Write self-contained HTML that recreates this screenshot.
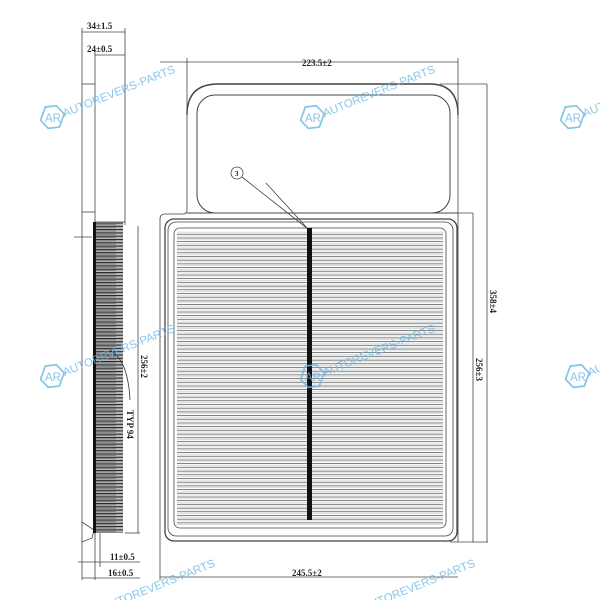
<!DOCTYPE html>
<html><head><meta charset="utf-8"><style>
html,body{margin:0;padding:0;background:#fff;width:600px;height:600px;overflow:hidden}
svg text{font-family:"Liberation Serif",serif;fill:#222;font-weight:bold}
svg text.wm{font-family:"Liberation Sans",sans-serif;fill:#6bb8e4;font-size:11.5px;font-weight:normal;opacity:.8}
</style></head><body>
<svg width="600" height="600" viewBox="0 0 600 600" xmlns="http://www.w3.org/2000/svg">
<defs>
<pattern id="pl" x="0" y="230" width="10" height="3.7" patternUnits="userSpaceOnUse">
<line x1="0" y1="0.6" x2="10" y2="0.6" stroke="#444" stroke-width="0.7"/>
<line x1="0" y1="2.3" x2="10" y2="2.3" stroke="#bbb" stroke-width="0.5"/>
</pattern>
<pattern id="sp" x="0" y="222" width="30" height="3.3" patternUnits="userSpaceOnUse">
<rect width="30" height="3.3" fill="#bbb"/>
<line x1="0" y1="1" x2="30" y2="1" stroke="#222" stroke-width="1.1"/>
<line x1="4" y1="2.4" x2="26" y2="2.4" stroke="#555" stroke-width="0.6"/>
</pattern>
<g id="logo">
<polygon points="-10,-8 0,-13 10,-8 10,6 0,11 -10,6" fill="none" stroke="#6bb8e4" stroke-width="1.8" transform="rotate(20)" opacity=".8"/>
<text x="-7" y="4" class="wm" font-size="10">AR</text>
</g>
</defs>

<!-- Side view -->
<g stroke="#444" fill="none" stroke-width="0.8">
<line x1="82" y1="28" x2="82" y2="580"/>
<line x1="95" y1="50" x2="95" y2="222"/>
<line x1="125" y1="28" x2="125" y2="225"/>
<line x1="82" y1="32" x2="125" y2="32"/>
<line x1="95" y1="55" x2="125" y2="55"/>
<line x1="82" y1="84" x2="95" y2="84"/>
<line x1="82" y1="212" x2="95" y2="212"/>
<line x1="95" y1="222" x2="125" y2="222"/>
<line x1="138" y1="226" x2="138" y2="533"/>
<line x1="125" y1="533" x2="140" y2="533"/>
<line x1="95" y1="533" x2="95" y2="580"/>
<line x1="100" y1="533" x2="100" y2="567"/>
<line x1="78" y1="562" x2="140" y2="562"/>
<line x1="82" y1="578" x2="140" y2="578"/>
<line x1="74" y1="237" x2="92" y2="237"/>
<path d="M82 522 L94 530 L92 538 L82 542"/>
</g>
<rect x="93" y="222" width="30" height="311" fill="url(#sp)"/>
<rect x="93" y="222" width="3" height="311" fill="#111"/>
<path d="M110 350 Q128 360 130 400" stroke="#333" fill="none" stroke-width="0.8"/>
<text x="87" y="29" font-size="9">34±1.5</text>
<text x="87" y="52" font-size="9">24±0.5</text>
<text x="110" y="560" font-size="9">11±0.5</text>
<text x="108" y="576" font-size="9">16±0.5</text>
<text transform="translate(141,355) rotate(90)" font-size="9">256±2</text>
<text transform="translate(127,410) rotate(90)" font-size="9">TYP 94</text>

<!-- Main view -->
<g stroke="#444" fill="none">
<path d="M187 70 L187 210 Q187 214 183 214 L165 214 Q160 214 160 219 L160 580" stroke-width="0.8"/>
<line x1="160" y1="62" x2="458" y2="62" stroke-width="0.8"/>
<line x1="187" y1="58" x2="187" y2="70" stroke-width="0.8"/>
<line x1="458" y1="58" x2="458" y2="542" stroke-width="0.8"/>
<line x1="160" y1="577" x2="458" y2="577" stroke-width="0.8"/>
<path d="M218 84 L430 84 Q458 84 458 115" stroke-width="1.4"/>
<path d="M218 84 Q187 84 187 115" stroke-width="1.4"/>
<rect x="197" y="95" width="253" height="118" rx="18" stroke-width="1"/>
<line x1="187" y1="213" x2="458" y2="213" stroke-width="1"/>
<rect x="165" y="219" width="292" height="322" rx="9" stroke-width="1.3"/>
<rect x="168" y="222" width="285" height="314" rx="8" stroke-width="0.8"/>
<rect x="174" y="228" width="272" height="300" rx="6" stroke-width="0.8"/>
<line x1="440" y1="84" x2="487" y2="84" stroke-width="0.8"/>
<line x1="487" y1="84" x2="487" y2="542" stroke-width="0.8"/>
<line x1="440" y1="213" x2="473" y2="213" stroke-width="0.8"/>
<line x1="473" y1="213" x2="473" y2="542" stroke-width="0.8"/>
<line x1="450" y1="542" x2="488" y2="542" stroke-width="0.8"/>
<circle cx="237" cy="173" r="6" stroke-width="0.8"/>
<line x1="242" y1="177" x2="308" y2="229" stroke-width="0.8"/>
<line x1="266" y1="183" x2="308" y2="229" stroke-width="0.8"/>
</g>
<rect x="177" y="231" width="266" height="295" fill="url(#pl)"/>
<rect x="307" y="228" width="5" height="292" fill="#111"/>
<text x="235" y="176" font-size="7">3</text>
<text x="302" y="66" font-size="9">223.5±2</text>
<text x="292" y="576" font-size="9">245.5±2</text>
<text transform="translate(490,290) rotate(90)" font-size="9">358±4</text>
<text transform="translate(476,358) rotate(90)" font-size="9">256±3</text>

<!-- watermarks -->
<g transform="translate(52,118)"><use href="#logo"/><text x="12" y="4" class="wm" transform="rotate(-22)">AUTOREVERS-PARTS</text></g>
<g transform="translate(312,118)"><use href="#logo"/><text x="12" y="4" class="wm" transform="rotate(-22)">AUTOREVERS-PARTS</text></g>
<g transform="translate(572,118)"><use href="#logo"/><text x="12" y="4" class="wm" transform="rotate(-22)">AUTOREVERS-PARTS</text></g>
<g transform="translate(52,377)"><use href="#logo"/><text x="12" y="4" class="wm" transform="rotate(-22)">AUTOREVERS-PARTS</text></g>
<g transform="translate(312,377)"><use href="#logo"/><text x="12" y="4" class="wm" transform="rotate(-22)">AUTOREVERS-PARTS</text></g>
<g transform="translate(577,377)"><use href="#logo"/><text x="12" y="4" class="wm" transform="rotate(-22)">AUTOREVERS-PARTS</text></g>
<text x="100" y="612" class="wm" transform="rotate(-22 100 600)">AUTOREVERS-PARTS</text>
<text x="360" y="612" class="wm" transform="rotate(-22 360 600)">AUTOREVERS-PARTS</text>
</svg>
</body></html>
